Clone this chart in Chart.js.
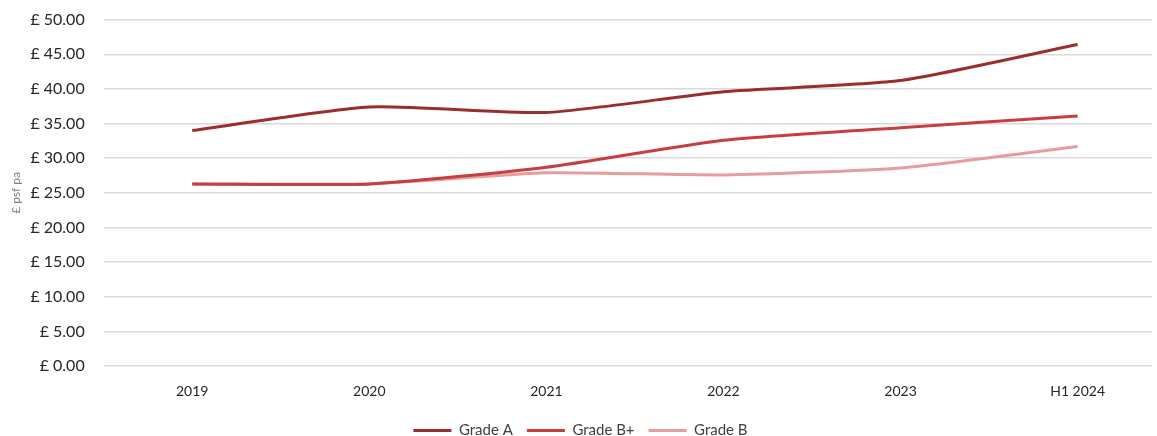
<!DOCTYPE html>
<html>
<head>
<meta charset="utf-8">
<script src="https://cdn.jsdelivr.net/npm/chart.js@4"></script>
<style>
  html, body { margin: 0; padding: 0; background: #fff; }
  #wrap { width: 1157px; height: 436px; position: relative; overflow: hidden; }
  #inner { position: absolute; left: 0; top: -9px; width: 1157px; height: 453px; }
</style>
</head>
<body>
<div id="wrap"><div id="inner"><canvas id="rents"></canvas></div></div>
<script>
// Rental values, £ psf pa
const periods = ['2019', '2020', '2021', '2022', '2023', 'H1 2024'];
const gradeA = [34.0, 37.4, 36.6, 39.6, 41.2, 46.4];
const gradeBPlus = [26.3, 26.3, 28.7, 32.6, 34.4, 36.1];
const gradeB = [26.3, 26.3, 27.9, 27.6, 28.6, 31.7];

const FONT = 'Lato, "Open Sans", sans-serif';

function toPoints(values) {
  return values.map((v, i) => ({ x: i, y: v }));
}

const ctx = document.getElementById('rents').getContext('2d');
new Chart(ctx, {
  type: 'line',
  data: {
    datasets: [
      { label: 'Grade A', data: toPoints(gradeA), borderColor: '#9c2d2f', backgroundColor: '#9c2d2f', borderWidth: 3 },
      { label: 'Grade B+', data: toPoints(gradeBPlus), borderColor: '#c83e40', backgroundColor: '#c83e40', borderWidth: 3 },
      { label: 'Grade B', data: toPoints(gradeB), borderColor: '#e79c9d', backgroundColor: '#e79c9d', borderWidth: 3 },
    ],
  },
  options: {
    responsive: true,
    maintainAspectRatio: false,
    animation: false,
    layout: { padding: { top: -9, right: 5, left: 9, bottom: -4 } },
    elements: {
      point: { radius: 0 },
      line: { tension: 0.2 },
    },
    plugins: {
      legend: {
        position: 'bottom',
        labels: {
          usePointStyle: true,
          pointStyle: 'line',
          pointStyleWidth: 38,
          padding: 14,
          color: '#404040',
          font: { family: FONT, size: 15 },
        },
      },
      tooltip: { enabled: false },
    },
    scales: {
      x: {
        type: 'linear',
        min: -0.5,
        max: 5.42,
        grid: { display: false },
        border: { display: false },
        afterBuildTicks: axis => { axis.ticks = periods.map((p, i) => ({ value: i })); },
        ticks: {
          autoSkip: false,
          maxRotation: 0,
          padding: 9,
          color: '#262626',
          font: { family: FONT, size: 14 },
          callback: v => periods[v],
        },
      },
      y: {
        min: 0,
        max: 50,
        grid: { color: '#d9d9d9', lineWidth: 1.5, drawTicks: false },
        border: { display: false },
        ticks: {
          stepSize: 5,
          padding: 19,
          color: '#262626',
          font: { family: FONT, size: 16 },
          callback: v => '£ ' + v.toFixed(2),
        },
        title: {
          display: true,
          text: '£ psf pa',
          color: '#7f7f7f',
          padding: { top: 0, bottom: -12 },
          font: { family: FONT, size: 12 },
        },
      },
    },
  },
});
</script>
</body>
</html>
